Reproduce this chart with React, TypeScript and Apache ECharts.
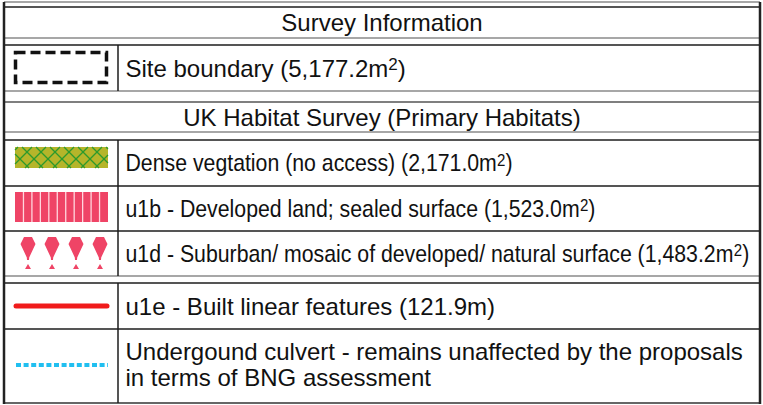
import React, { useEffect, useRef } from 'react';
import * as echarts from 'echarts';

// ---- Data (texts of the legend table) ----
const sectionTitles: string[] = ['Survey Information', 'UK Habitat Survey (Primary Habitats)'];
const siteLabel: string[] = ['Site boundary (5,177.2m', '2', ')'];
const habitatLabels: string[][] = [
  ['Dense vegtation (no access) (2,171.0m', '2', ')'],
  ['u1b - Developed land; sealed surface (1,523.0m', '2', ')'],
  ['u1d - Suburban/ mosaic of developed/ natural surface (1,483.2m', '2', ')'],
];
const linearLabel: string = 'u1e - Built linear features (121.9m)';
const culvertLines: string[] = [
  'Undergound culvert - remains unaffected by the proposals',
  'in terms of BNG assessment',
];

const FONT = '"Liberation Sans", Arial, Helvetica, sans-serif';
const GRAY = '#8a8a8a';
const DARK = '#1c1c1c';
const TXT = '#111111';

function supText(parts: string[]) {
  return `{a|${parts[0]}}{s|${parts[1]}}{a|${parts[2]}}`;
}
const richStyles = {
  a: { fontSize: 24, fontFamily: FONT, fill: TXT, color: TXT, lineHeight: 24 },
  s: { fontSize: 17, fontFamily: FONT, fill: TXT, color: TXT, lineHeight: 12, verticalAlign: 'top' },
};

function textEl(x: number, y: number, text: string, opts: any = {}) {
  const align = opts.align || 'left';
  return {
    type: 'text',
    x,
    y,
    scaleX: opts.scaleX || 1,
    style: {
      text,
      x: 0,
      y: 0,
      fill: TXT,
      fontSize: 24,
      fontFamily: FONT,
      textAlign: align,
      align,
      textVerticalAlign: 'middle',
      verticalAlign: 'middle',
      rich: opts.rich,
    },
  };
}

function hLine(y: number, color: string, x1 = 4, x2 = 760, w = 1.5) {
  return { type: 'line', shape: { x1, y1: y, x2, y2: y }, style: { stroke: color, lineWidth: w } };
}
function vLine(x: number, y1: number, y2: number, color = DARK, w = 1.5) {
  return { type: 'line', shape: { x1: x, y1, x2: x, y2 }, style: { stroke: color, lineWidth: w } };
}

function hatch(x0: number, y0: number, x1: number, y1: number, s: number) {
  const els: any[] = [];
  els.push({ type: 'rect', shape: { x: x0, y: y0, width: x1 - x0, height: y1 - y0 }, style: { fill: '#b5b52a' } });
  const st = { stroke: '#2c9a2c', lineWidth: 1.3 };
  for (let k = x0 - y1 - s; k <= x1 - y0 + s; k += s) {
    const xs = Math.max(x0, y0 + k);
    const xe = Math.min(x1, y1 + k);
    if (xe > xs) els.push({ type: 'line', shape: { x1: xs, y1: xs - k, x2: xe, y2: xe - k }, style: st });
  }
  for (let k = x0 + y0 + 3; k <= x1 + y1 + s; k += s) {
    const xs = Math.max(x0, k - y1);
    const xe = Math.min(x1, k - y0);
    if (xe > xs) els.push({ type: 'line', shape: { x1: xs, y1: k - xs, x2: xe, y2: k - xe }, style: st });
  }
  return els;
}

function stripes(x0: number, y0: number, x1: number, y1: number, n: number) {
  const els: any[] = [];
  els.push({ type: 'rect', shape: { x: x0, y: y0, width: x1 - x0, height: y1 - y0 }, style: { fill: '#ef4466' } });
  const w = (x1 - x0) / n;
  for (let i = 1; i < n; i++) {
    const x = x0 + i * w;
    els.push({ type: 'line', shape: { x1: x, y1: y0, x2: x, y2: y1 }, style: { stroke: '#ffd6de', lineWidth: 1.3 } });
  }
  return els;
}

function kite(cx: number) {
  const c = '#ef4466';
  return [
    {
      type: 'polygon',
      shape: {
        points: [
          [cx - 4, 237], [cx + 4, 237], [cx + 7.5, 244], [cx + 1.2, 257.5],
          [cx + 1, 260], [cx - 1, 260], [cx - 1.2, 257.5], [cx - 7.5, 244],
        ],
      },
      style: { fill: c },
    },
    { type: 'polygon', shape: { points: [[cx, 264], [cx + 3, 269], [cx - 3, 269]] }, style: { fill: c } },
  ];
}

export default function App() {
  const ref = useRef<HTMLDivElement>(null);
  useEffect(() => {
    document.body.style.margin = '0';
    const chart = echarts.init(ref.current!, undefined, { renderer: 'svg' });
    const els: any[] = [];
    els.push({ type: 'rect', shape: { x: 0, y: 0, width: 763, height: 405 }, style: { fill: '#ffffff' } });

    els.push({
      type: 'rect',
      shape: { x: 15.5, y: 52.5, width: 91, height: 30 },
      style: { fill: 'none', stroke: '#111', lineWidth: 3.5, lineDash: [10, 5] },
    });
    els.push(...hatch(15, 147, 108, 168, 14));
    els.push(...stripes(15, 192, 108, 222, 11));
    [28, 52, 76, 100].forEach((cx) => els.push(...kite(cx)));
    els.push({
      type: 'line',
      shape: { x1: 16, y1: 306, x2: 107, y2: 306 },
      style: { stroke: '#f01b1b', lineWidth: 5, lineCap: 'round' },
    });
    els.push({
      type: 'line',
      shape: { x1: 16, y1: 365, x2: 108, y2: 365 },
      style: { stroke: '#20bff0', lineWidth: 4, lineDash: [5, 2.6] },
    });

    const hl: [number, string][] = [
      [2, GRAY], [7, DARK], [38, GRAY], [45, DARK], [91, GRAY], [102, '#555'],
      [132, GRAY], [140, DARK], [186, DARK], [231, DARK], [276, GRAY], [283, DARK],
      [329, DARK], [403, '#333'],
    ];
    hl.forEach(([y, c]) => els.push(hLine(y, c)));
    els.push(vLine(4, 2, 404, '#222', 2.5));
    els.push(vLine(760, 2, 404, '#222', 2.5));
    els.push(vLine(118, 45, 91));
    els.push(vLine(118, 140, 276));
    els.push(vLine(118, 283, 403));

    els.push(textEl(382, 22.5, sectionTitles[0], { align: 'center' }));
    els.push(textEl(382, 117, sectionTitles[1], { align: 'center' }));
    els.push(textEl(125.5, 68, supText(siteLabel), { rich: richStyles }));
    const rowY = [163, 208.5, 253.5];
    habitatLabels.forEach((p, i) => els.push(textEl(125.5, rowY[i], supText(p), { rich: richStyles, scaleX: 0.887 })));
    els.push(textEl(125.5, 306, linearLabel));
    els.push(textEl(125.5, 351.5, culvertLines[0]));
    els.push(textEl(125.5, 377.5, culvertLines[1]));

    chart.setOption({ animation: false, graphic: { elements: els } });
    return () => chart.dispose();
  }, []);
  return <div ref={ref} style={{ width: 763, height: 405 }} />;
}
